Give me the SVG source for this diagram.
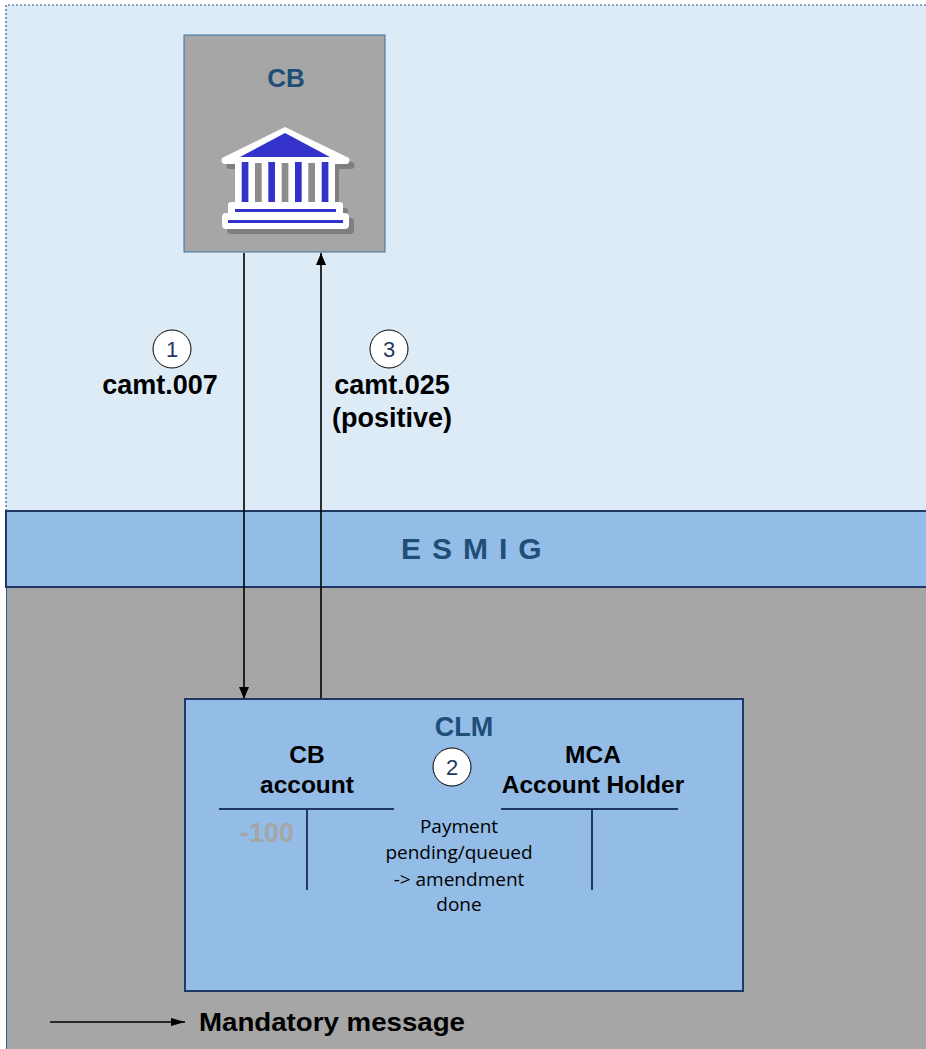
<svg xmlns="http://www.w3.org/2000/svg" width="926" height="1049" viewBox="0 0 926 1049">
<defs>
<style>
.b{font-family:"Liberation Sans",Arial,sans-serif;font-weight:bold}
.lbl{font-size:27px;fill:#000}
.hd{fill:#1F4E79}
.acc{font-size:24.5px;fill:#000;text-anchor:middle}
.num{font-family:"Liberation Sans",Arial,sans-serif;font-size:22px;fill:#1F3864;text-anchor:middle}
.circ{fill:#fff;stroke:#000;stroke-width:1}
.conn{stroke:#000;stroke-width:1.6;fill:none}
.t{stroke:#1F3864;stroke-width:2;fill:none}
.note{font-family:"Open Sans","Noto Sans",sans-serif;font-size:19px;fill:#000;text-anchor:middle}
</style>
<marker id="ah" viewBox="0 0 12 10" refX="12" refY="5" markerWidth="12" markerHeight="10" markerUnits="userSpaceOnUse" orient="auto">
<path d="M0,0 L12,5 L0,10 z" fill="#000"/>
</marker>
<marker id="ahl" viewBox="0 0 14 8" refX="14" refY="4" markerWidth="14" markerHeight="8" markerUnits="userSpaceOnUse" orient="auto">
<path d="M0,0 L14,4 L0,8 z" fill="#000"/>
</marker>
</defs>

<g id="zone-top">
<rect x="6" y="5" width="925" height="506" fill="#DDEBF7"/>
<path d="M6,511 V5 H926" fill="none" stroke="#2F5597" stroke-width="1.2" stroke-dasharray="2,2"/>
</g>
<g id="zone-bottom">
<rect x="6" y="587" width="925" height="470" fill="#A6A6A6"/>
<line x1="6.5" y1="587" x2="6.5" y2="1049" stroke="#2F5597" stroke-width="1"/>
</g>
<g id="esmig">
<rect x="6" y="511" width="925" height="76" fill="#93BCE6" stroke="#1F3864" stroke-width="2"/>
<text class="b hd" x="401" y="559" font-size="30" letter-spacing="11">ESMIG</text>
</g>

<g id="cb">
<rect x="184" y="35" width="201" height="217" fill="#A6A6A6" stroke="#41719C" stroke-width="1"/>
<text class="b hd" x="286" y="87" font-size="26" text-anchor="middle">CB</text>
<g id="bank-icon">
<g transform="translate(5,5)" fill="#7F7F7F">
<path d="M222,158 L285,127 L349,158 Q351,164 345,164 L226,164 Q220,164 222,158 z"/>
<rect x="236" y="162" width="98" height="42"/>
<rect x="228" y="203" width="115" height="12" rx="3"/>
<rect x="222" y="213" width="127" height="16" rx="4"/>
</g>
<path d="M222,158 L285,127 L349,158 Q351,164 345,164 L226,164 Q220,164 222,158 z" fill="#fff"/>
<path d="M240,157 L285,133 L330,157 z" fill="#3333CC"/>
<rect x="235" y="162" width="100" height="42" fill="#fff"/>
<rect x="241.7" y="162" width="6.7" height="41" fill="#3333CC"/>
<rect x="268.3" y="162" width="6.7" height="41" fill="#3333CC"/>
<rect x="295" y="162" width="6.7" height="41" fill="#3333CC"/>
<rect x="321.7" y="162" width="6.7" height="41" fill="#3333CC"/>
<rect x="255" y="163" width="6.7" height="40" fill="#8C8C8C"/>
<rect x="281.7" y="163" width="6.7" height="40" fill="#8C8C8C"/>
<rect x="308.3" y="163" width="6.7" height="40" fill="#8C8C8C"/>
<rect x="228" y="202" width="115" height="13" rx="3" fill="#fff"/>
<rect x="222" y="213" width="127" height="16" rx="4" fill="#fff"/>
<rect x="235" y="209" width="101" height="3" fill="#3333CC"/>
<rect x="228" y="220" width="115" height="3" fill="#3333CC"/>
</g>
</g>

<g id="connectors">
<line class="conn" x1="244" y1="253" x2="244" y2="699" marker-end="url(#ah)"/>
<line class="conn" x1="321" y1="698" x2="321" y2="253" marker-end="url(#ah)"/>
<line class="conn" x1="50" y1="1022" x2="185" y2="1022" marker-end="url(#ahl)"/>
</g>

<g id="label-1">
<circle class="circ" cx="172" cy="349" r="19"/>
<text class="num" x="172" y="357">1</text>
<text class="b lbl" x="160" y="394" text-anchor="middle">camt.007</text>
</g>
<g id="label-3">
<circle class="circ" cx="389" cy="349" r="19"/>
<text class="num" x="389" y="357">3</text>
<text class="b lbl" x="392" y="394" text-anchor="middle">camt.025</text>
<text class="b lbl" x="392" y="427" text-anchor="middle">(positive)</text>
</g>

<g id="clm">
<rect x="185" y="699" width="558" height="292" fill="#93BCE6" stroke="#1F3864" stroke-width="2"/>
<text class="b hd" x="464" y="736" font-size="27" text-anchor="middle">CLM</text>
<text class="b acc" x="307" y="763">CB</text>
<text class="b acc" x="307" y="793">account</text>
<text class="b acc" x="593" y="763">MCA</text>
<text class="b acc" x="593" y="793">Account Holder</text>
<circle class="circ" cx="452" cy="767" r="19"/>
<text class="num" x="452" y="775">2</text>
<path class="t" d="M219,809 H394 M307,809 V890"/>
<path class="t" d="M501,809 H678 M592,809 V890"/>
<text class="b" x="267" y="842" font-size="27" fill="#A6A6A6" text-anchor="middle">-100</text>
<text class="note" x="459" y="833">Payment</text>
<text class="note" x="459" y="859">pending/queued</text>
<text class="note" x="459" y="886">-&gt; amendment</text>
<text class="note" x="459" y="911">done</text>
</g>

<g id="legend">
<text class="b" x="199" y="1031" font-size="25" fill="#000" textLength="266" lengthAdjust="spacingAndGlyphs">Mandatory message</text>
</g>
</svg>
